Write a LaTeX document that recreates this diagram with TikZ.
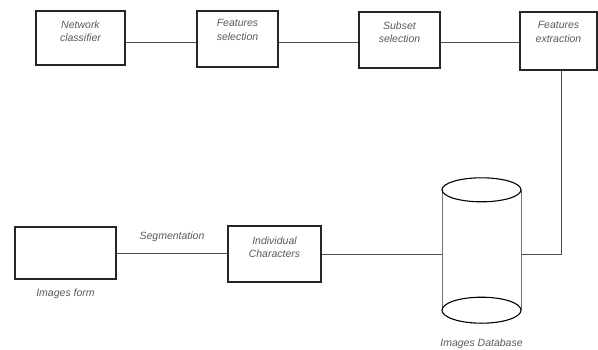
\documentclass[tikz,border=0pt]{standalone}
\usepackage{fontspec}
\setsansfont{Liberation Sans}
\usetikzlibrary{positioning}

\begin{document}
\begin{tikzpicture}[x=1pt,y=-1pt,
  blk/.style={draw=black!85,line width=1.1pt,inner sep=0pt},
  lbl/.style={font=\sffamily\itshape\fontsize{10.5}{13.5}\selectfont,text=black!65,align=center,inner sep=0pt},
  wire/.style={draw=black!70,line width=0.8pt}]
\useasboundingbox (0,0) rectangle (598,349);

% Top row
\node[blk,minimum width=89pt,minimum height=54pt] (nc) at (80.5,38) {};
\node[blk,minimum width=81pt,minimum height=56pt] (fs) at (237.5,39) {};
\node[blk,minimum width=81pt,minimum height=56pt] (ss) at (399.5,40) {};
\node[blk,minimum width=77pt,minimum height=58pt] (fe) at (558.5,41) {};
\node[lbl,below=10pt of nc.north] (nct) {Network\\classifier};
\node[lbl,below=9pt of fs.north] (fst) {Features\\selection};
\node[lbl,below=10pt of ss.north] (sst) {Subset\\selection};
\node[lbl,below=10pt of fe.north] (fet) {Features\\extraction};

% Bottom row
\node[blk,minimum width=101pt,minimum height=52pt] (ifm) at (65.5,253) {};
\node[blk,minimum width=93pt,minimum height=56pt] (ic) at (274.5,254) {};
\node[lbl,below=11pt of ic.north] (ict) {Individual\\Characters};
\node[lbl,below=9pt of ifm.south] (ifmt) {Images form};

% Database
\node[minimum width=79pt,minimum height=145pt,inner sep=0pt] (db) at (481.5,250.5) {};
\draw[black!55,line width=0.6pt] ([yshift=-12pt]db.north west) -- ([yshift=13pt]db.south west);
\draw[black!55,line width=0.6pt] ([yshift=-12pt]db.north east) -- ([yshift=13pt]db.south east);
\draw[line width=1.1pt] ([yshift=-12pt]db.north) ellipse [x radius=39.5pt, y radius=12pt];
\draw[line width=1.1pt] ([yshift=13pt]db.south) ellipse [x radius=39.5pt, y radius=13pt];
\node[lbl,below=15pt of db.south] (dbt) {Images Database};

% Connectors
\draw[wire] ([yshift=-4pt]nc.east) -- ([yshift=-4pt]nc.east -| fs.west);
\draw[wire] ([yshift=-3pt]fs.east) -- ([yshift=-3pt]fs.east -| ss.west);
\draw[wire] ([yshift=-2pt]ss.east) -- ([yshift=-2pt]ss.east -| fe.west);
\draw[wire] ([xshift=3pt]fe.south) |- (db.east |- ic.east);
\draw[wire] (ifm.east) -- (ifm.east -| ic.west) node[lbl,midway,above=11pt] (seg) {Segmentation};
\draw[wire] (ic.east) -- (ic.east -| db.west);
\end{tikzpicture}
\end{document}
